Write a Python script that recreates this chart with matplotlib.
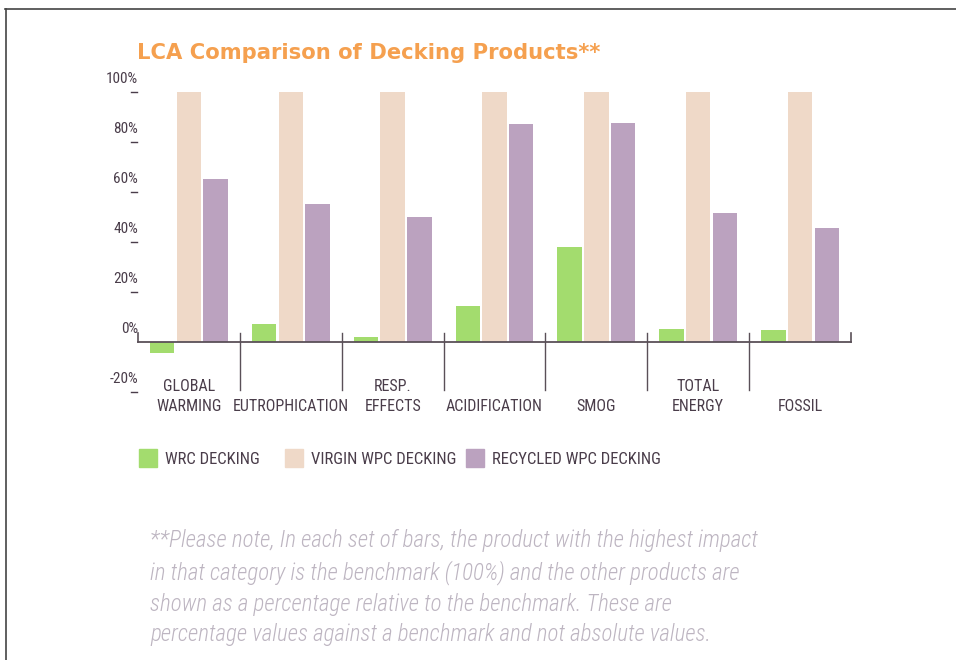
import matplotlib
matplotlib.use("Agg")
import matplotlib.pyplot as plt
import matplotlib.transforms as mtransforms
from matplotlib.patches import Rectangle
from matplotlib.lines import Line2D
import numpy as np

categories = ["GLOBAL\nWARMING", "EUTROPHICATION", "RESP.\nEFFECTS", "ACIDIFICATION",
              "SMOG", "TOTAL\nENERGY", "FOSSIL"]
wrc = [-4.5, 7.0, 1.7, 14.4, 38.0, 5.1, 4.6]
virgin = [100, 100, 100, 100, 100, 100, 100]
recycled = [65.2, 55.1, 50.1, 87.2, 87.7, 51.7, 45.5]
series_names = ["WRC DECKING", "VIRGIN WPC DECKING", "RECYCLED WPC DECKING"]
yticks = [-20, 0, 20, 40, 60, 80, 100]
ytick_labels = ["-20%", "0%", "20%", "40%", "60%", "80%", "100%"]
title = "LCA Comparison of Decking Products**"
note = ("**Please note, In each set of bars, the product with the highest impact\n"
        "in that category is the benchmark (100%) and the other products are\n"
        "shown as a percentage relative to the benchmark. These are\n"
        "percentage values against a benchmark and not absolute values.")

colors = ["#a3dc6e", "#efd9c8", "#bba2bf"]
txt_col = "#4a3d4a"
axis_col = "#5a5058"
COND = ["Roboto Condensed", "DejaVu Sans"]

W, H = 956, 660
fig = plt.figure(figsize=(W / 100, H / 100), dpi=100)
fig.patch.set_facecolor("white")

def fx(px):
    return px / W

def fy(py):
    return 1 - py / H

# axes placement: x from 138 to 851 px; y: 100 at 92.3 px, -20 at 391.6 px
ax = fig.add_axes([fx(138), fy(391.6), fx(851) - fx(138), fy(92.3) - fy(391.6)])
ax.set_xlim(-0.5, len(categories) - 0.5)
ax.set_ylim(-20, 100)
ax.axis("off")

x = np.arange(len(categories))
bw = 0.24
off = 0.262
ax.bar(x - off, wrc, bw, color=colors[0], zorder=2)
ax.bar(x, virgin, bw, color=colors[1], zorder=2)
ax.bar(x + off, recycled, bw, color=colors[2], zorder=2)

# baseline with end ticks
ax.plot([-0.5, len(categories) - 0.5], [0, 0], color=axis_col, lw=1.3, zorder=3, clip_on=False)
ax.plot([-0.5, -0.5], [0, 3.3], color=axis_col, lw=1.2, zorder=3, clip_on=False)
ax.plot([len(categories) - 0.5] * 2, [0, 3.3], color=axis_col, lw=1.2, zorder=3, clip_on=False)
# group separators
for i in range(len(categories) - 1):
    ax.plot([i + 0.5, i + 0.5], [3.4, -19.3], color=axis_col, lw=1.0, zorder=3, clip_on=False)

# y tick dashes and labels
ytr = ax.get_yaxis_transform()
lab_tr = mtransforms.offset_copy(ytr, fig=fig, x=0, y=13, units="dots")
for v, lab in zip(yticks, ytick_labels):
    if v != 0:
        ax.plot([-7 / 713, -1.5 / 713], [v, v], transform=ytr, color=txt_col, lw=1.0, clip_on=False)
    ax.text(0.0, v, lab, transform=lab_tr, ha="right", va="center", fontsize=11,
            color=txt_col, family=COND)

# category labels
for i, c in enumerate(categories):
    ax.text(i, -28.8, c, ha="center", va="bottom", fontsize=11.5, color=txt_col,
            family=COND, linespacing=1.36, clip_on=False)

# title
fig.text(fx(137), fy(53), title, ha="left", va="center", fontsize=15.2, fontweight="bold",
         color="#f5a04f", family=["DejaVu Sans"])

# legend
leg_x = [139, 285, 466]
for xx, col, name in zip(leg_x, colors, series_names):
    fig.add_artist(Rectangle((fx(xx), fy(467)), fx(18), fy(449) - fy(467), color=col,
                             transform=fig.transFigure))
    fig.text(fx(xx + 26), fy(460), name, ha="left", va="center", fontsize=12,
             color=txt_col, family=COND)

# footnote
fig.text(fx(150), fy(529), note, ha="left", va="top", fontsize=16.6, style="italic",
         fontweight="light", color="#bdb5c1", family=COND, linespacing=1.43)

# frame lines
fig.add_artist(Line2D([fx(5), 1], [fy(8.5), fy(8.5)], color="#444444", lw=1.2))
fig.add_artist(Line2D([fx(5.5), fx(5.5)], [fy(8.5), 0], color="#444444", lw=1.2))

fig.savefig("out.png", dpi=100, facecolor="white")
